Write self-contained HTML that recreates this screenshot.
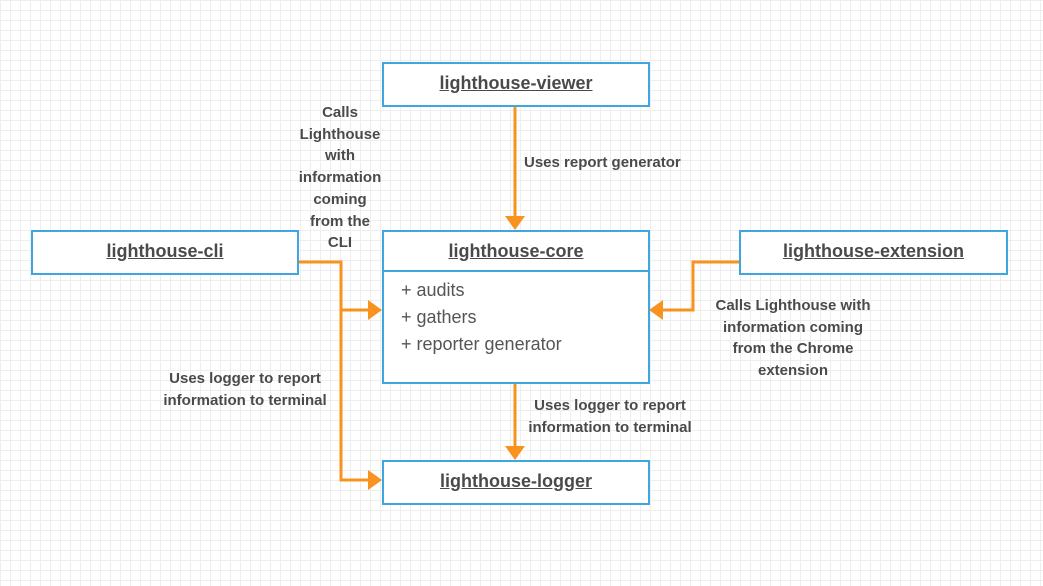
<!DOCTYPE html>
<html><head><style>
body{margin:0;width:1043px;height:586px;overflow:hidden;background:#fff;
background-image:linear-gradient(#eee 1px,transparent 1px),linear-gradient(90deg,#eee 1px,transparent 1px);background-size:10px 10px;font-family:"Liberation Sans",sans-serif;color:#4a4a4a}
.b{position:absolute;border:2px solid #3fa6e2;background:#fff;box-sizing:border-box}
.t{font-weight:bold;font-size:18px;text-decoration:underline;text-align:center;line-height:38px}
.l{position:absolute;font-size:15px;font-weight:bold;text-align:center;line-height:21.7px;color:#4a4a4a}
</style></head><body>
<svg width="1043" height="586" style="position:absolute;left:0;top:0">
<g stroke="#f7931e" stroke-width="3" fill="none">
<path d="M515 106V218"/><path d="M298 262H341V480H370"/><path d="M341 310H370"/>
<path d="M739 262H693V310H661"/><path d="M515 383V448"/>
</g>
<g fill="#f7931e">
<path d="M505 216L525 216L515 230Z"/><path d="M505 446L525 446L515 460Z"/>
<path d="M368 300L368 320L382 310Z"/><path d="M368 470L368 490L382 480Z"/>
<path d="M663 300L663 320L649 310Z"/>
</g></svg>
<div class="b t" style="left:382px;top:62px;width:268px;height:45px">lighthouse-viewer</div>
<div class="b t" style="left:31px;top:230px;width:268px;height:45px">lighthouse-cli</div>
<div class="b t" style="left:739px;top:230px;width:269px;height:45px">lighthouse-extension</div>
<div class="b t" style="left:382px;top:460px;width:268px;height:45px">lighthouse-logger</div>
<div class="b" style="left:382px;top:230px;width:268px;height:154px">
<div class="t" style="border-bottom:2px solid #3fa6e2;height:38px">lighthouse-core</div>
<div style="padding:5px 0 0 17px;font-size:18px;line-height:27px;color:#555">+ audits<br>+ gathers<br>+ reporter generator</div>
</div>
<div class="l" style="left:524px;top:152px;width:180px;text-align:left">Uses report generator</div>
<div class="l" style="left:285px;top:102px;width:110px">Calls<br>Lighthouse<br>with<br>information<br>coming<br>from the<br>CLI</div>
<div class="l" style="left:145px;top:368px;width:200px">Uses logger to report<br>information to terminal</div>
<div class="l" style="left:515px;top:395px;width:190px">Uses logger to report<br>information to terminal</div>
<div class="l" style="left:693px;top:295px;width:200px">Calls Lighthouse with<br>information coming<br>from the Chrome<br>extension</div>
</body></html>
